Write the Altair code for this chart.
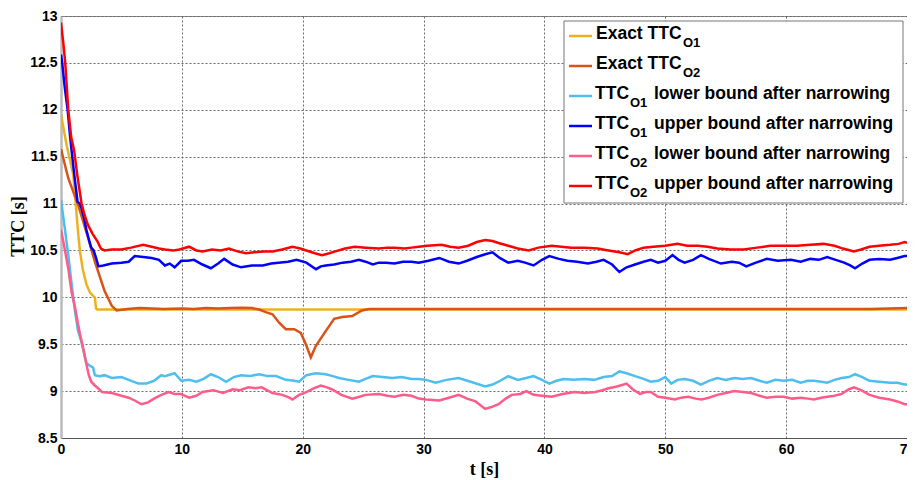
import altair as alt
import pandas as pd

# ---------------- data (t [s], TTC [s]) ----------------
exact_o1_t = [0, 0.47, 1.02, 1.43, 1.57, 1.8, 2.1, 2.4, 2.7, 2.8, 2.9, 3.0, 70]
exact_o1_v = [11.95, 11.62, 11.30, 10.67, 10.49, 10.30, 10.14, 10.05, 10.01, 10.0, 9.88, 9.87, 9.87]

exact_o2_t = [0, 0.6, 1.43, 2.25, 2.8, 3.6, 4.2, 4.6, 5.5, 6.5, 7.5, 8.5, 10, 11, 12, 13, 14, 15,
              15.8, 16.4, 17.0, 17.5, 18.05, 18.6, 19.3, 19.84, 20.26, 20.67, 21.08, 21.9, 22.6,
              23.27, 24.1, 24.9, 25.5, 30, 40, 50, 60, 67, 70]
exact_o2_v = [11.58, 11.27, 10.98, 10.63, 10.38, 10.07, 9.91, 9.86, 9.875, 9.885, 9.88, 9.875, 9.88,
              9.875, 9.885, 9.88, 9.885, 9.89, 9.885, 9.87, 9.84, 9.82, 9.73, 9.66, 9.66, 9.62,
              9.50, 9.36, 9.48, 9.64, 9.77, 9.79, 9.80, 9.86, 9.875, 9.875, 9.875, 9.875, 9.875,
              9.875, 9.885]

o1_low_t = [0, 0.3, 0.6, 0.9, 1.15, 1.4, 1.7, 2.1, 2.4, 2.66, 2.8, 3.2, 3.6, 4.2, 5.0, 5.6, 6.4,
            7.06, 7.7, 8.3, 8.6, 9.4, 9.95, 10.6, 11.2, 11.8, 12.4, 13.0, 13.66, 14.3, 14.9, 15.6,
            16.4, 17.1, 17.8, 18.6, 19.3, 19.7, 20.3, 21.1, 21.9, 22.5, 23.0, 23.8, 24.65, 25.2,
            25.8, 26.6, 27.4, 28.2, 29.0, 29.6, 30.2, 31.0, 31.9, 32.9, 33.9, 35.1, 35.7, 36.2,
            37.0, 37.8, 38.5, 39.1, 39.8, 40.4, 41.0, 41.6, 42.4, 43.3, 44.1, 44.9, 45.6, 46.2,
            46.8, 47.5, 48.2, 48.8, 49.4, 50.0, 50.5, 51.0, 51.6, 52.3, 52.95, 53.6, 54.3, 55.0,
            55.7, 56.4, 57.1, 57.8, 58.4, 59.1, 59.8, 60.5, 61.2, 61.8, 62.3, 62.9, 63.4, 64.0,
            64.6, 65.2, 65.7, 66.3, 66.9, 67.7, 68.6, 69.2, 69.8, 70]
o1_low_v = [11.04, 10.75, 10.45, 10.12, 9.86, 9.65, 9.52, 9.30, 9.27, 9.25, 9.17, 9.16, 9.17, 9.14,
            9.15, 9.12, 9.08, 9.08, 9.11, 9.17, 9.16, 9.19, 9.11, 9.12, 9.10, 9.13, 9.18, 9.15,
            9.10, 9.15, 9.17, 9.16, 9.18, 9.16, 9.16, 9.12, 9.11, 9.10, 9.17, 9.19, 9.18, 9.16,
            9.14, 9.12, 9.10, 9.13, 9.16, 9.15, 9.14, 9.15, 9.13, 9.13, 9.12, 9.09, 9.12, 9.14,
            9.10, 9.05, 9.07, 9.10, 9.16, 9.12, 9.14, 9.16, 9.12, 9.08, 9.11, 9.13, 9.12, 9.13,
            9.12, 9.15, 9.16, 9.21, 9.19, 9.16, 9.13, 9.10, 9.11, 9.15, 9.08, 9.12, 9.13, 9.11,
            9.07, 9.11, 9.14, 9.12, 9.14, 9.13, 9.14, 9.11, 9.09, 9.12, 9.11, 9.12, 9.09, 9.11,
            9.11, 9.10, 9.09, 9.12, 9.14, 9.15, 9.18, 9.15, 9.11, 9.10, 9.09, 9.09, 9.07, 9.07]

o1_up_t = [0, 0.1, 0.3, 0.55, 0.75, 0.93, 1.15, 1.37, 1.55, 1.7, 1.9, 2.1, 2.3, 2.5, 2.7, 2.9, 3.1,
           3.5, 4.2, 5.0, 5.6, 6.1, 6.8, 7.5, 8.1, 8.6, 9.0, 9.4, 9.95, 10.5, 11.0, 11.7, 12.4,
           13.0, 13.5, 14.2, 14.9, 15.8, 16.7, 17.4, 18.0, 18.8, 19.5, 20.3, 21.1, 21.5, 21.9,
           22.6, 23.3, 24.0, 24.65, 25.2, 25.8, 26.3, 26.9, 27.6, 28.3, 29.0, 29.6, 30.4, 31.3,
           32.1, 32.9, 33.6, 34.4, 35.1, 35.7, 36.3, 37.0, 37.8, 38.4, 39.1, 39.8, 40.4, 41.2,
           41.9, 42.7, 43.6, 44.3, 44.9, 45.6, 46.2, 46.8, 47.5, 48.2, 48.8, 49.4, 50.0, 50.6,
           51.1, 51.6, 52.3, 52.95, 53.6, 54.6, 55.5, 56.1, 56.7, 57.5, 58.4, 59.3, 60.4, 61.2,
           62.0, 62.7, 63.4, 64.1, 64.8, 65.3, 65.7, 66.3, 66.9, 67.7, 68.6, 69.2, 69.8, 70]
o1_up_v = [12.59, 12.50, 12.25, 12.0, 11.72, 11.50, 11.25, 11.02, 11.0, 10.95, 10.85, 10.72, 10.62,
           10.53, 10.50, 10.42, 10.33, 10.34, 10.36, 10.37, 10.38, 10.44, 10.43, 10.42, 10.40,
           10.34, 10.36, 10.32, 10.39, 10.39, 10.40, 10.35, 10.31, 10.36, 10.41, 10.35, 10.32,
           10.34, 10.34, 10.36, 10.37, 10.38, 10.40, 10.37, 10.30, 10.33, 10.34, 10.35, 10.37,
           10.38, 10.40, 10.38, 10.35, 10.37, 10.37, 10.36, 10.38, 10.38, 10.37, 10.39, 10.42,
           10.38, 10.36, 10.39, 10.43, 10.46, 10.48, 10.42, 10.37, 10.39, 10.37, 10.34, 10.40,
           10.44, 10.41, 10.39, 10.38, 10.36, 10.38, 10.40, 10.35, 10.27, 10.32, 10.35, 10.38,
           10.40, 10.37, 10.39, 10.45, 10.40, 10.37, 10.40, 10.45, 10.41, 10.36, 10.38, 10.37,
           10.33, 10.37, 10.41, 10.39, 10.40, 10.38, 10.41, 10.40, 10.43, 10.40, 10.37, 10.34,
           10.31, 10.36, 10.40, 10.41, 10.40, 10.42, 10.44, 10.44]

o2_low_t = [0, 0.3, 0.6, 0.88, 1.15, 1.4, 1.57, 1.85, 2.1, 2.3, 2.5, 2.8, 3.07, 3.4, 4.2, 5.0, 5.6,
            6.1, 6.65, 7.2, 7.7, 8.3, 8.9, 9.4, 9.9, 10.6, 11.2, 11.7, 12.6, 13.4, 14.2, 14.8,
            15.5, 16.1, 16.6, 17.5, 18.3, 18.9, 19.15, 19.7, 20.3, 20.9, 21.5, 22.0, 22.4, 23.2,
            24.1, 24.7, 25.2, 26.3, 27.0, 27.6, 28.3, 29.0, 29.6, 30.2, 31.3, 32.1, 32.9, 33.6,
            34.3, 35.1, 35.6, 36.2, 36.8, 37.3, 38.0, 38.5, 39.1, 39.8, 40.6, 41.5, 42.5, 43.3,
            44.2, 44.8, 45.3, 46.0, 46.8, 47.3, 47.9, 48.4, 48.8, 49.4, 50.0, 50.8, 51.3, 51.9,
            52.5, 53.0, 53.6, 54.3, 55.0, 55.7, 56.4, 57.1, 57.8, 58.4, 59.1, 59.8, 60.5, 61.2,
            61.8, 62.3, 62.9, 63.4, 64.0, 64.6, 65.2, 65.6, 66.2, 66.9, 67.7, 68.6, 69.2, 69.8, 70]
o2_low_v = [10.72, 10.52, 10.31, 10.05, 9.90, 9.72, 9.61, 9.45, 9.29, 9.17, 9.10, 9.06, 9.03, 8.99,
            8.98, 8.95, 8.93, 8.90, 8.86, 8.88, 8.92, 8.96, 8.99, 8.97, 8.97, 8.93, 8.95, 8.99,
            9.01, 8.98, 9.02, 9.01, 9.04, 9.03, 9.04, 8.98, 8.96, 8.93, 8.91, 8.96, 8.99, 9.03,
            9.06, 9.04, 9.02, 8.96, 8.92, 8.94, 8.96, 8.97, 8.95, 8.94, 8.96, 8.95, 8.92, 8.91,
            8.90, 8.93, 8.96, 8.92, 8.89, 8.81, 8.83, 8.86, 8.92, 8.96, 8.97, 9.00, 8.96, 8.95,
            8.94, 8.97, 8.99, 8.98, 8.99, 9.01, 9.03, 9.05, 9.08, 9.02, 8.97, 8.99, 8.99, 8.94,
            8.93, 8.91, 8.93, 8.94, 8.92, 8.91, 8.93, 8.96, 8.98, 9.00, 8.99, 8.98, 8.95, 8.93,
            8.94, 8.94, 8.92, 8.93, 8.92, 8.91, 8.93, 8.94, 8.95, 8.97, 9.02, 9.04, 9.01, 8.96,
            8.93, 8.91, 8.89, 8.86, 8.86]

o2_up_t = [0, 0.2, 0.35, 0.6, 0.85, 1.0, 1.1, 1.35, 1.7, 1.9, 2.2, 2.6, 3.0, 3.3, 3.6, 4.2, 5.0,
           5.8, 6.8, 7.5, 8.1, 8.6, 9.3, 9.8, 10.6, 11.2, 11.7, 12.5, 13.2, 13.9, 14.6, 15.3,
           16.0, 16.8, 17.5, 18.3, 19.15, 19.8, 20.3, 21.0, 21.6, 22.2, 22.7, 23.5, 24.3, 25.2,
           26.3, 27.0, 27.6, 28.4, 29.0, 29.6, 30.3, 31.5, 32.2, 32.9, 33.7, 34.4, 35.1, 35.7,
           36.2, 37.0, 37.8, 38.7, 39.5, 40.6, 41.4, 42.2, 43.3, 44.4, 45.3, 46.2, 46.9, 47.5,
           48.2, 49.0, 50.0, 51.0, 51.8, 52.7, 53.5, 54.3, 55.4, 56.5, 57.6, 58.7, 59.8, 60.9,
           62.0, 63.1, 64.0, 64.7, 65.6, 66.2, 66.9, 67.7, 68.6, 69.3, 69.8, 70]
o2_up_v = [12.93, 12.70, 12.50, 12.0, 11.70, 11.62, 11.55, 11.30, 11.0, 10.90, 10.78, 10.68, 10.60,
           10.52, 10.50, 10.51, 10.51, 10.53, 10.56, 10.54, 10.52, 10.51, 10.50, 10.51, 10.54,
           10.50, 10.49, 10.51, 10.50, 10.52, 10.49, 10.47, 10.48, 10.49, 10.49, 10.51, 10.54,
           10.52, 10.50, 10.47, 10.45, 10.47, 10.49, 10.52, 10.54, 10.53, 10.52, 10.53, 10.53,
           10.52, 10.53, 10.54, 10.55, 10.56, 10.54, 10.53, 10.55, 10.59, 10.61, 10.60, 10.58,
           10.55, 10.52, 10.50, 10.53, 10.55, 10.54, 10.53, 10.53, 10.52, 10.50, 10.48, 10.46,
           10.50, 10.53, 10.54, 10.55, 10.57, 10.55, 10.55, 10.54, 10.52, 10.51, 10.51, 10.53,
           10.55, 10.55, 10.55, 10.56, 10.57, 10.55, 10.52, 10.49, 10.51, 10.54, 10.55, 10.56,
           10.57, 10.59, 10.58]

series = [(exact_o1_t, exact_o1_v), (exact_o2_t, exact_o2_v), (o1_low_t, o1_low_v),
          (o1_up_t, o1_up_v), (o2_low_t, o2_low_v), (o2_up_t, o2_up_v)]
colors = ["#EDB120", "#D95319", "#4DBEEE", "#0000FF", "#FF5C8A", "#FF0000"]

legend_main = ["Exact TTC", "Exact TTC", "TTC", "TTC", "TTC", "TTC"]
legend_sub = ["O1", "O2", "O1", "O1", "O2", "O2"]
legend_rest = ["", "", "lower bound after narrowing", "upper bound after narrowing",
               "lower bound after narrowing", "upper bound after narrowing"]

x_ticks = [0, 10, 20, 30, 40, 50, 60, 70]
y_ticks = [8.5, 9, 9.5, 10, 10.5, 11, 11.5, 12, 12.5, 13]

# ---------------- chart ----------------
W, H = 846, 422
x_scale = alt.Scale(domain=[0, 70], nice=False, zero=False)
y_scale = alt.Scale(domain=[8.5, 13], nice=False, zero=False)

x_axis = alt.Axis(values=x_ticks, title="t [s]", grid=True, ticks=False, labelPadding=4,
                  labelFont="Liberation Sans", labelFontWeight="bold", labelFontSize=14,
                  labelColor="#000", titleFont="Liberation Serif", titleFontWeight="bold",
                  titleFontSize=18, titleColor="#000", titleY=31, titleBaseline="middle",
                  domainColor="#555555", domainWidth=1, labelFlush=False, labelOverlap=False)
y_axis = alt.Axis(values=y_ticks, title="TTC [s]", grid=True, ticks=False, labelPadding=4,
                  format="~g", labelFont="Liberation Sans", labelFontWeight="bold",
                  labelFontSize=14, labelColor="#000", titleFont="Liberation Serif",
                  titleFontWeight="bold", titleFontSize=18, titleColor="#000",
                  titleX=-43, titleY=210, titleAlign="center", titleBaseline="middle",
                  titleAngle=270, domainColor="#bbbbbb", domainWidth=2.5,
                  labelFlush=False, labelOverlap=False)

layers = []
for (ts, vs), col in zip(series, colors):
    df = pd.DataFrame({"t": ts, "ttc": vs})
    layers.append(
        alt.Chart(df).mark_line(color=col, strokeWidth=2.5, clip=True).encode(
            x=alt.X("t:Q", scale=x_scale, axis=x_axis),
            y=alt.Y("ttc:Q", scale=y_scale, axis=y_axis),
        )
    )

# legend box (pixel layout)
box = pd.DataFrame({"k": [0]})
layers.append(
    alt.Chart(box).mark_rect(fill="white", stroke="#777777", strokeWidth=1).encode(
        x=alt.value(503), x2=alt.value(842), y=alt.value(5), y2=alt.value(187)
    )
)
for i in range(6):
    ly = 20 + 30 * i
    base = ly + 3
    one = pd.DataFrame({"main": [legend_main[i]], "sub": [legend_sub[i]], "rest": [legend_rest[i]]})
    layers.append(
        alt.Chart(one).mark_rule(color=colors[i], strokeWidth=2.5).encode(
            x=alt.value(508), x2=alt.value(531), y=alt.value(ly)
        )
    )
    main_x = 535 if i < 2 else 534
    sub_x = 622 if i < 2 else 569
    layers.append(
        alt.Chart(one).mark_text(align="left", baseline="alphabetic", font="Liberation Sans",
                                 fontWeight="bold", fontSize=17.5, color="#000").encode(
            x=alt.value(main_x), y=alt.value(base), text="main:N")
    )
    layers.append(
        alt.Chart(one).mark_text(align="left", baseline="alphabetic", font="Liberation Sans",
                                 fontWeight="bold", fontSize=13, color="#000").encode(
            x=alt.value(sub_x), y=alt.value(base + 7.5), text="sub:N")
    )
    if legend_rest[i]:
        layers.append(
            alt.Chart(one).mark_text(align="left", baseline="alphabetic", font="Liberation Sans",
                                     fontWeight="bold", fontSize=17.5, color="#000").encode(
                x=alt.value(593), y=alt.value(base), text="rest:N")
        )

chart = alt.layer(*layers).properties(
    width=W, height=H,
    autosize=alt.AutoSizeParams(type="none"),
    padding={"left": 53, "top": 8, "right": 0, "bottom": 42},
    background="white",
).configure_view(
    stroke="#8a8a8a", strokeWidth=1
).configure_axis(
    gridColor="#6a6a6a", gridDash=[2, 2], gridWidth=1, gridOpacity=1
)

chart.save("out.html", embed_options={"renderer": "svg", "actions": False})
